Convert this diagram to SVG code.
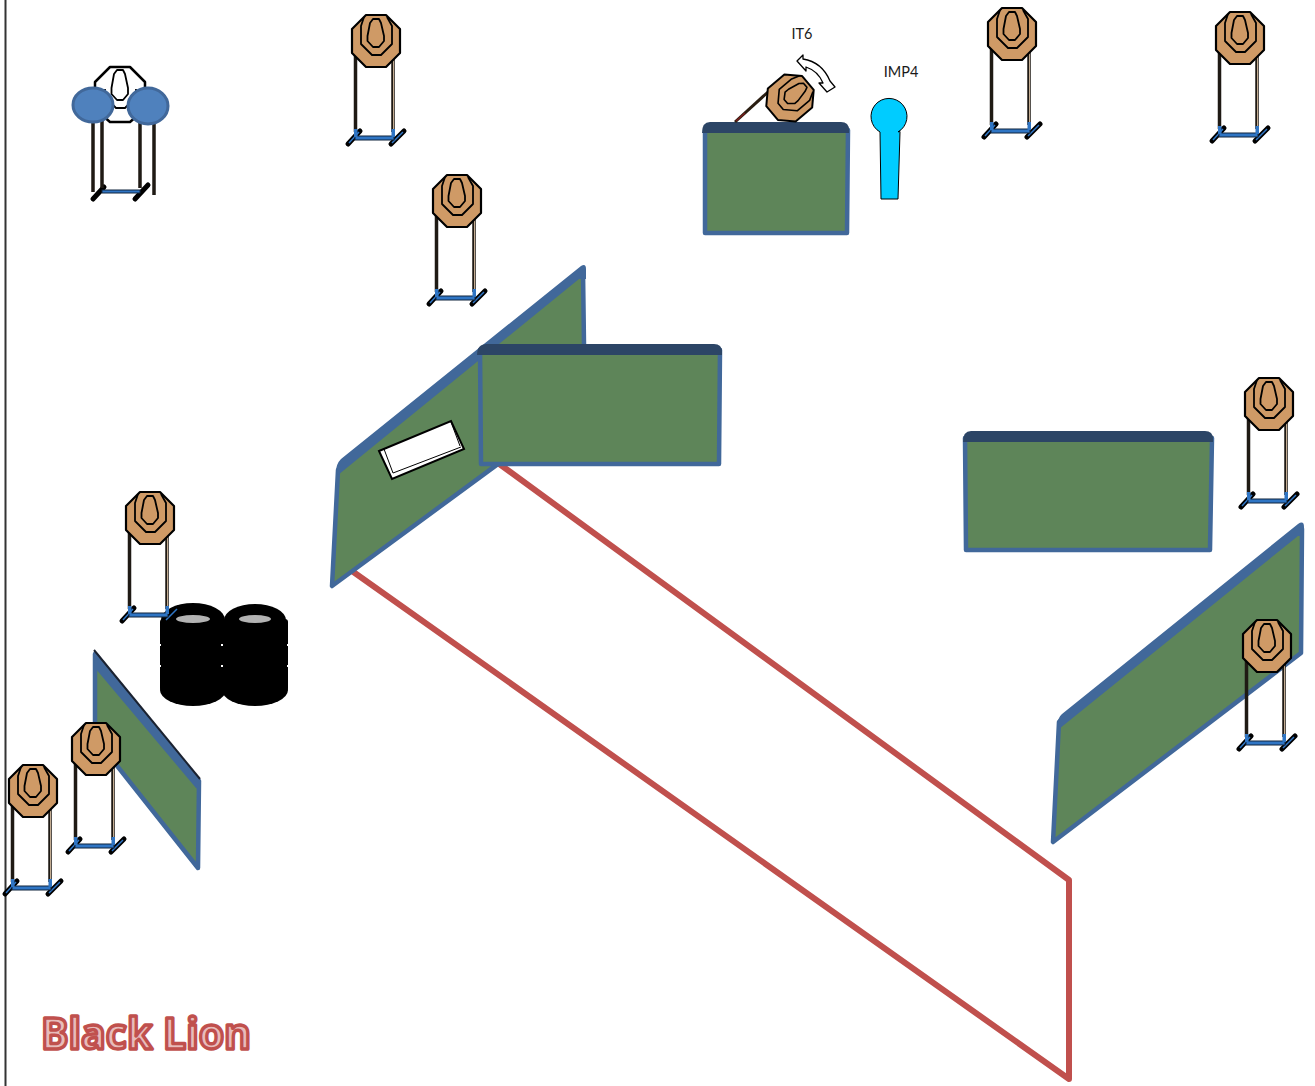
<svg xmlns="http://www.w3.org/2000/svg" width="1315" height="1086" viewBox="0 0 1315 1086">
<style>
.pole{fill:none;stroke:#1f1a14;stroke-width:3.500}
.poleL{fill:none;stroke:#c4ad92;stroke-width:1}
.foot{fill:none;stroke:#000;stroke-width:5;stroke-linecap:round}
.footB{fill:none;stroke:#2f75c4;stroke-width:1.500}
.bar{fill:#2f75c4;stroke:#10243c;stroke-width:1}
.oct{stroke:#000;stroke-width:2.200;stroke-linejoin:round}
.ring{fill:none;stroke:#000;stroke-width:1.800;stroke-linejoin:round}
.panel{fill:#5e8559;stroke:#41689a;stroke-width:4.500;stroke-linejoin:round}
.top{fill:#41689a}
.dark{fill:#2c4566}
.tire{fill:#000}
.notch{fill:#fff}
.hole{fill:#b3b3b3}
.label{font-family:Lato,"Liberation Sans",sans-serif;font-size:14.5px;fill:#1a1a1a;text-anchor:middle}
.title{font-family:"Open Sans","Liberation Sans",sans-serif;font-weight:700;font-size:43px;fill:#e8bcbb;stroke:#c0504d;stroke-width:3.500;stroke-linejoin:round}
</style>
<defs>
<g id="stand">
<path class="foot" d="M-28,103 L-16,90 M15,103 L28,90"/>
<path class="footB" d="M-27,102 L-17,91 M16,102 L27,91"/>
<path class="pole" d="M-20.500,12 V91 M17,12 V91"/>
<path class="poleL" d="M17.500,12 V91"/>
<rect class="bar" x="-21" y="95" width="39" height="4"/>
<rect x="-22" y="88" width="3.500" height="8" fill="#2f75c4"/>
<rect x="15.500" y="88" width="3.500" height="8" fill="#2f75c4"/>
</g>
<g id="face">
<path class="ring" d="M-12,-24 L-15,-15 L-15,3 L-4,14 L5,14 L16,3 L16,-15 L11,-24"/>
<path class="ring" d="M-3,-22 L-6,-18 L-8.500,-5 L-8.500,0 L-3,6 L3,6 L8,0 L8,-5 L5,-18 L3,-22 Z"/>
</g>
<path id="octagon" class="oct" d="M-10,-26 L10,-26 L24,-12 L24,12 L10,26 L-10,26 L-24,12 L-24,-12 Z"/>
<g id="target">
<use href="#stand"/>
<use href="#octagon" fill="#cf9a66"/>
<use href="#face"/>
</g>
<g id="tirestack">
<rect class="tire" x="-33" y="8" width="66" height="72" rx="3"/>
<ellipse class="tire" cx="0" cy="79" rx="33" ry="16"/>
<rect class="notch" x="-34" y="33" width="2" height="2"/>
<rect class="notch" x="32" y="33" width="2" height="2"/>
<rect class="notch" x="-34" y="54" width="2" height="2"/>
<rect class="notch" x="32" y="54" width="2" height="2"/>
</g>
</defs>
<g id="frame"><line x1="5.500" y1="0" x2="5.500" y2="1086" stroke="#333" stroke-width="2"/></g>
<g id="fault-line"><path d="M498,463 L1069,880 V1079 L352,571" fill="none" stroke="#c0504d" stroke-width="6" stroke-linejoin="round"/></g>
<g id="wall-back-slant">
<path class="panel" d="M338,470 L583,270 L584,345 L585,400 L332,586 Z"/>
<path class="top" d="M336,472 Q336,464 341,459 L581,266 Q586,263 586,269 V279 L579,279 L338,475 Z"/>
</g>
<g id="wall-front">
<path class="panel" d="M480,350 H720 L719,464 H481 Z"/>
<path class="dark" d="M477,355 Q477,344 487,344 H714 Q722,344 722,352 V355 H477 Z"/>
</g>
<g id="door">
<path d="M379,451 L451,421 L464,449 L392,479 Z" fill="#fff" stroke="#000" stroke-width="2"/>
<path d="M384,449 L393,473 L461,447 M451,422 L460,446" fill="none" stroke="#000" stroke-width="1"/>
</g>
<g id="wall-top">
<path class="panel" d="M705,130 H848 L847,233 H705 Z"/>
<path class="dark" d="M702,133 Q702,122 710,122 H841 Q849,122 849,130 V133 Z"/>
</g>
<g id="wall-right">
<path class="panel" d="M965,438 H1212 L1210,550 H966 Z"/>
<path class="dark" d="M963,442 Q963,431 971,431 H1205 Q1213,431 1213,439 V442 Z"/>
</g>
<g id="wall-right-slant">
<path class="panel" d="M1059,722 L1302,529 L1301,653 L1053,842 Z"/>
<path class="top" d="M1057,728 Q1057,718 1062,714 L1298,524 Q1304,520 1304,527 V536 L1298,536 L1059,729 Z"/>
</g>
<g id="wall-left-slant">
<path class="panel" d="M95,654 L199,781 L198,868 L95,738 Z"/>
<path class="top" d="M94,650 L200,779 V790 L196,788 L95,668 Z"/>
<path d="M94,650 L200,779" fill="none" stroke="#1b2230" stroke-width="2"/>
</g>
<g id="tires">
<use href="#tirestack" x="193" y="611"/>
<use href="#tirestack" x="255" y="611"/>
<ellipse class="tire" cx="193" cy="620" rx="32" ry="17"/>
<ellipse class="tire" cx="255" cy="620" rx="31" ry="16"/>
<ellipse class="hole" cx="193" cy="619" rx="17" ry="4"/>
<ellipse class="hole" cx="255" cy="619" rx="16" ry="4"/>
</g>
<g id="target-1"><use href="#target" x="376" y="41"/></g>
<g id="target-2"><use href="#target" x="457" y="201"/></g>
<g id="target-3"><use href="#target" x="1012" y="34"/></g>
<g id="target-4"><use href="#target" x="1240" y="38"/></g>
<g id="target-5"><use href="#target" x="1269" y="404"/></g>
<g id="target-6"><use href="#target" x="150" y="518"/></g>
<g id="target-7"><use href="#target" x="96" y="749"/></g>
<g id="target-8"><use href="#target" x="33" y="791"/></g>
<g id="target-9"><use href="#target" x="1267" y="646"/></g>
<g id="no-shoot-target">
<g transform="translate(120,94)">
<path class="foot" d="M-27,105 L-16,93 M15,105 L28,91"/>
<path class="pole" d="M-18,24 V94 M20,24 V94"/>
<rect class="bar" x="-18" y="96" width="38" height="3"/>
<path d="M-10,-27 L10,-27 L25,-12 L25,15 L10,28 L-10,28 L-25,15 L-25,-12 Z" fill="#fff" stroke="#000" stroke-width="2.500" stroke-linejoin="round"/>
<path class="ring" d="M-15,-5 V3 L-4,14 L5,14 L16,3 V-5"/>
<path class="ring" d="M-3,-24 L-6,-20 L-8.500,-6 L-8.500,0 L-3,6 L3,6 L8,0 L8,-6 L5,-20 L3,-24 Z"/>
</g>
<path class="pole" d="M93,120 V192 M154,120 V195"/>
<ellipse cx="93" cy="105" rx="20" ry="17" fill="#4f81bd" stroke="#41689a" stroke-width="3"/>
<ellipse cx="148" cy="106" rx="20" ry="18" fill="#4f81bd" stroke="#41689a" stroke-width="3"/>
</g>
<g id="swinging-target">
<path d="M735,122 L768,92" stroke="#2a1e12" stroke-width="3" fill="none"/>
<path d="M736,121 L745,113" stroke="#7b1c1c" stroke-width="1.500" fill="none"/>
<g transform="translate(790,98) rotate(50) scale(0.9)"><use href="#octagon" fill="#cf9a66"/><use href="#face"/></g>
</g>
<g id="swing-arrow">
<path d="M797,61 L803,55 L803,59 Q822,62 830,81 L835,87 L827,92 L819,83 L823,83 Q818,71 806,67 L806,71 Z" fill="#fff" stroke="#000" stroke-width="1.300" stroke-linejoin="round"/>
</g>
<g id="imp4-popper">
<path d="M880,132 A18,18 0 1 1 898,132 Q900,130 900,132 L898,199 H881 Z" fill="#00ccff" stroke="#000" stroke-width="1"/>
</g>
<g id="labels">
<text class="label" x="802" y="38.500">IT6</text>
<text class="label" x="901" y="76.500">IMP4</text>
<text class="title" x="41" y="1049" textLength="210" lengthAdjust="spacingAndGlyphs">Black Lion</text>
</g>
</svg>
